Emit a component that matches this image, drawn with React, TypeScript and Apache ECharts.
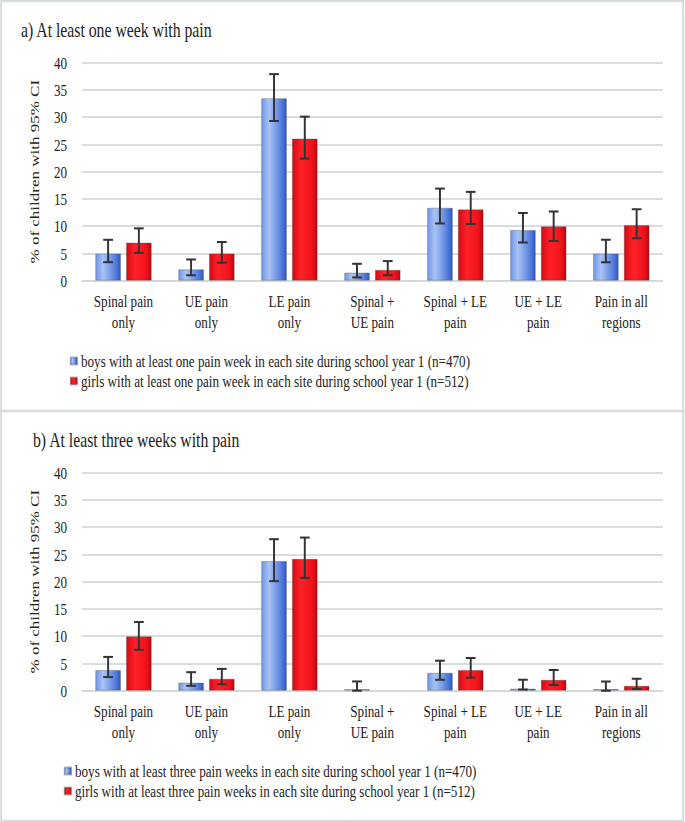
import React, { useEffect, useRef } from "react";
import * as echarts from "echarts";

const categories = [
  "Spinal pain\nonly",
  "UE pain\nonly",
  "LE pain\nonly",
  "Spinal +\nUE pain",
  "Spinal + LE\npain",
  "UE + LE\npain",
  "Pain in all\nregions",
];
const yTicks = { min: 0, max: 40, interval: 5 };

const titleA = "a) At least one week with pain";
const titleB = "b) At least three weeks with pain";
const yAxisTitle = "% of children with 95% CI";

const boysNameA = "boys with at least one pain week in each site during school year 1 (n=470)";
const girlsNameA = "girls with at least one pain week in each site during school year 1 (n=512)";
const boysNameB = "boys with at least three pain weeks in each site during school year 1 (n=470)";
const girlsNameB = "girls with at least three pain weeks in each site during school year 1 (n=512)";

// Panel a
const boysA = [5.0, 2.1, 33.5, 1.5, 13.4, 9.3, 5.0];
const boysALow = [3.4, 1.0, 29.3, 0.6, 10.5, 7.0, 3.4];
const boysAHigh = [7.5, 3.9, 37.9, 3.1, 16.9, 12.4, 7.5];
const girlsA = [7.0, 5.0, 26.1, 2.0, 13.1, 10.0, 10.2];
const girlsALow = [5.1, 3.3, 22.4, 1.0, 10.4, 7.3, 7.8];
const girlsAHigh = [9.6, 7.1, 30.1, 3.6, 16.3, 12.7, 13.1];

// Panel b
const boysB = [3.8, 1.5, 23.8, 0.3, 3.3, 0.4, 0.3];
const boysBLow = [2.5, 0.9, 20.1, 0.0, 2.0, 0.2, 0.0];
const boysBHigh = [6.2, 3.4, 27.8, 1.7, 5.5, 2.0, 1.7];
const girlsB = [10.0, 2.2, 24.2, 0, 3.8, 2.0, 0.9];
const girlsBLow = [7.5, 1.2, 20.7, null, 2.4, 1.05, 0.3];
const girlsBHigh = [12.6, 4.0, 28.1, null, 6.0, 3.8, 2.2];

// horizontal compression of the whole picture (reference text is condensed)
const SX = 0.75;
const W = 685 / SX;
const H = 822;
const FONT = "'Liberation Serif', 'Times New Roman', serif";
const TEXT = "#222";
const BAR_W = 34;
const GAP = 7;

const blueFill = new echarts.graphic.LinearGradient(0, 0, 1, 0, [
  { offset: 0, color: "#6f95e8" },
  { offset: 0.3, color: "#a9c4f4" },
  { offset: 0.75, color: "#5b84e0" },
  { offset: 1, color: "#2f59c6" },
]);
const redFill = new echarts.graphic.LinearGradient(0, 0, 1, 0, [
  { offset: 0, color: "#d40a12" },
  { offset: 0.35, color: "#ff2228" },
  { offset: 0.8, color: "#f0121a" },
  { offset: 1, color: "#b8080e" },
]);

function ciData(low: (number | null)[], high: (number | null)[]) {
  const out: number[][] = [];
  low.forEach((l, i) => {
    const h = high[i];
    if (l !== null && h !== null) out.push([i, l, h]);
  });
  return out;
}

function errorSeries(idx: number, data: number[][], side: number) {
  return {
    type: "custom",
    xAxisIndex: idx,
    yAxisIndex: idx,
    silent: true,
    z: 10,
    data,
    encode: { x: 0, y: [1, 2] },
    renderItem: (params: any, api: any) => {
      const c = api.value(0);
      const lo = api.coord([c, api.value(1)]);
      const hi = api.coord([c, api.value(2)]);
      const x = lo[0] + side * (BAR_W + GAP) / 2;
      const cap = 6.5;
      const st = { stroke: "#333", lineWidth: 2 };
      return {
        type: "group",
        children: [
          { type: "line", shape: { x1: x, y1: lo[1], x2: x, y2: hi[1] }, style: { stroke: "#333", lineWidth: 2.6 } },
          { type: "line", shape: { x1: x - cap, y1: lo[1], x2: x + cap, y2: lo[1] }, style: st },
          { type: "line", shape: { x1: x - cap, y1: hi[1], x2: x + cap, y2: hi[1] }, style: st },
        ],
      };
    },
  };
}

function barSeries(idx: number, name: string, data: number[], fill: any) {
  return {
    type: "bar",
    name,
    xAxisIndex: idx,
    yAxisIndex: idx,
    data: data.map((v) => (v === 0 ? { value: v, itemStyle: { borderWidth: 0 } } : v)),
    barWidth: BAR_W,
    barGap: (GAP / BAR_W) * 100 + "%",
    itemStyle: { color: fill, borderColor: "rgba(60,60,60,0.35)", borderWidth: 1 },
  };
}

function xAxis(idx: number) {
  return {
    type: "category",
    gridIndex: idx,
    data: categories,
    axisTick: { show: false },
    axisLine: { lineStyle: { color: "#d2d9d8", width: 2 } },
    axisLabel: {
      interval: 0,
      color: TEXT,
      fontFamily: FONT,
      fontSize: 17.5,
      lineHeight: 21,
      margin: 10,
    },
  };
}

function yAxis(idx: number) {
  return {
    type: "value",
    gridIndex: idx,
    min: yTicks.min,
    max: yTicks.max,
    interval: yTicks.interval,
    name: yAxisTitle,
    nameLocation: "middle",
    nameGap: 54,
    nameTextStyle: { color: TEXT, fontFamily: FONT, fontSize: 17 },
    axisLine: { show: false },
    axisTick: { show: false },
    splitLine: { lineStyle: { color: "#d8dedd", width: 2 } },
    axisLabel: { color: TEXT, fontFamily: FONT, fontSize: 17.5, margin: 20 },
  };
}

function legend(names: string[], left: number, top: number) {
  return {
    data: names,
    orient: "vertical",
    left,
    top,
    icon: "rect",
    itemWidth: 9,
    itemHeight: 7,
    itemGap: 0,
    selectedMode: false,
    textStyle: { color: TEXT, fontFamily: FONT, fontSize: 17.5, lineHeight: 20 },
  };
}

export default function App() {
  const ref = useRef<HTMLDivElement>(null);
  useEffect(() => {
    if (!ref.current) return;
    const chart = echarts.init(ref.current, null, { renderer: "svg" });
    chart.setOption({
      animation: false,
      backgroundColor: "#fff",
      grid: [
        { left: 82 / SX, right: W - 663 / SX, top: 62.7, height: 218 },
        { left: 82 / SX, right: W - 663 / SX, top: 472.7, height: 218 },
      ],
      xAxis: [xAxis(0), xAxis(1)],
      yAxis: [yAxis(0), yAxis(1)],
      legend: [
        legend([boysNameA, girlsNameA], 88, 346),
        legend([boysNameB, girlsNameB], 80, 756),
      ],
      graphic: [
        {
          type: "rect",
          shape: { x: 1.5, y: 1, width: W - 4, height: H - 2 },
          style: { fill: "none", stroke: "#d4dddc", lineWidth: 2.5 },
          z: 100,
        },
        {
          type: "line",
          shape: { x1: 0, y1: 411, x2: W, y2: 411 },
          style: { stroke: "#d4dddc", lineWidth: 2.5 },
          z: 100,
        },
        {
          type: "text",
          left: 21 / SX,
          top: 19,
          style: { text: titleA, fill: TEXT, font: `21px ${FONT}` },
        },
        {
          type: "text",
          left: 33 / SX,
          top: 429,
          style: { text: titleB, fill: TEXT, font: `21px ${FONT}` },
        },
      ],
      series: [
        barSeries(0, boysNameA, boysA, blueFill),
        barSeries(0, girlsNameA, girlsA, redFill),
        errorSeries(0, ciData(boysALow, boysAHigh), -1),
        errorSeries(0, ciData(girlsALow, girlsAHigh), 1),
        barSeries(1, boysNameB, boysB, blueFill),
        barSeries(1, girlsNameB, girlsB, redFill),
        errorSeries(1, ciData(boysBLow, boysBHigh), -1),
        errorSeries(1, ciData(girlsBLow, girlsBHigh), 1),
      ],
    });
    return () => chart.dispose();
  }, []);
  return (
    <div style={{ position: "absolute", left: 0, top: 0, width: 685, height: H, overflow: "hidden", background: "#fff" }}>
      <div
        ref={ref}
        style={{ width: W, height: H, transform: `scaleX(${SX})`, transformOrigin: "0 0" }}
      />
    </div>
  );
}
